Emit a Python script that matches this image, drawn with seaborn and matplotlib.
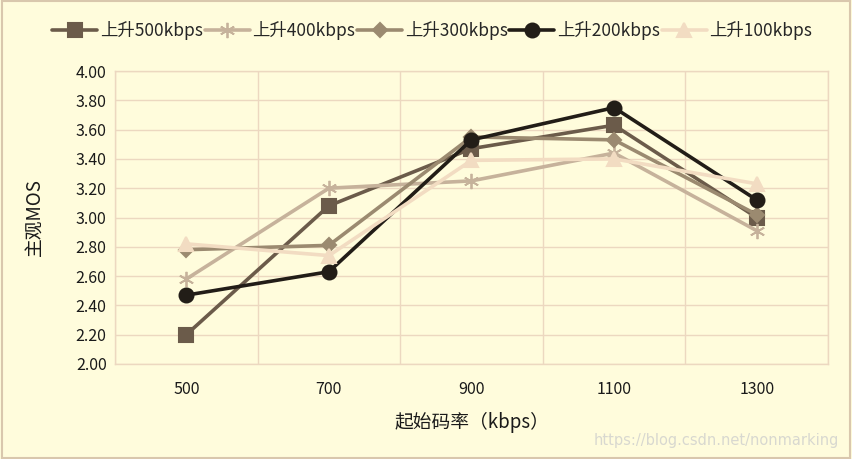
import numpy as np
import pandas as pd
import matplotlib.pyplot as plt
import seaborn as sns

rates = [500, 700, 900, 1100, 1300]
series_names = ['上升500kbps', '上升400kbps', '上升300kbps', '上升200kbps', '上升100kbps']
up500 = [2.20, 3.08, 3.47, 3.63, 3.00]
up400 = [2.58, 3.20, 3.25, 3.44, 2.91]
up300 = [2.78, 2.81, 3.55, 3.53, 3.02]
up200 = [2.47, 2.63, 3.53, 3.75, 3.12]
up100 = [2.82, 2.74, 3.39, 3.40, 3.23]

y_ticks = [2.0, 2.2, 2.4, 2.6, 2.8, 3.0, 3.2, 3.4, 3.6, 3.8, 4.0]

colors = ['#6b5b4a', '#c6b29b', '#9b8a70', '#221d17', '#f2dcc2']
markers = ['s', (6, 2, 0), 'D', 'o', '^']
msizes = [10, 11, 7, 10, 10]

rows = []
for name, vals in zip(series_names, [up500, up400, up300, up200, up100]):
    for r, v in zip(rates, vals):
        rows.append({'rate': r, 'mos': v, 'series': name})
df = pd.DataFrame(rows)

sns.set_style('white')
plt.rcParams['font.family'] = ['Noto Sans CJK SC', 'DejaVu Sans']

bg = '#fffcdc'
grid_c = '#ecd8c0'

fig = plt.figure(figsize=(8.52, 4.59), dpi=100, facecolor=bg)
ax = fig.add_axes([115/852, 1 - 364/459, (828-115)/852, (364-71)/459])
ax.set_facecolor(bg)

for i, name in enumerate(series_names):
    sub = df[df['series'] == name]
    sns.lineplot(data=sub, x='rate', y='mos', ax=ax, color=colors[i], lw=2.6,
                 marker=markers[i], markersize=msizes[i], markeredgecolor=colors[i],
                 markeredgewidth=1.5 if i != 1 else 1.3, label=name, sort=False)

ax.set_xlim(400, 1400)
ax.set_ylim(2.0, 4.0)
ax.set_xticks(rates)
ax.set_xticks([400, 600, 800, 1000, 1200, 1400], minor=True)
ax.set_yticks(y_ticks)
ax.set_yticklabels(['%.2f' % t for t in y_ticks])
ax.grid(False)
ax.yaxis.grid(True, color=grid_c, lw=1)
ax.xaxis.grid(True, which='minor', color=grid_c, lw=1)
ax.tick_params(axis='both', which='both', length=0, labelsize=11.5, colors='#1a1a1a')
ax.tick_params(axis='x', pad=12)
ax.tick_params(axis='y', pad=6)
for s in ax.spines.values():
    s.set_color(grid_c)
    s.set_linewidth(1)

ax.set_xlabel('起始码率（kbps）', fontsize=13.5, color='#1a1a1a', labelpad=10)
ax.set_ylabel('主观MOS', fontsize=13.5, color='#1a1a1a', labelpad=22)

ax.legend(loc='center', bbox_to_anchor=(0.445, 1 + 40/293), ncol=5, frameon=False,
          fontsize=12.5, handlelength=2.6, handletextpad=0.15, columnspacing=0.1,
          borderaxespad=0)

fig.text(0.985, 0.025, 'https://blog.csdn.net/nonmarking', ha='right', va='bottom',
         fontsize=10.5, color='#d8d8d0', family=['DejaVu Sans'])

border = plt.Rectangle((0.002, 0.002), 0.996, 0.996, transform=fig.transFigure,
                       fill=False, edgecolor='#d9c7ad', lw=1.5)
fig.patches.append(border)

fig.savefig('out.png', dpi=100, facecolor=bg)
